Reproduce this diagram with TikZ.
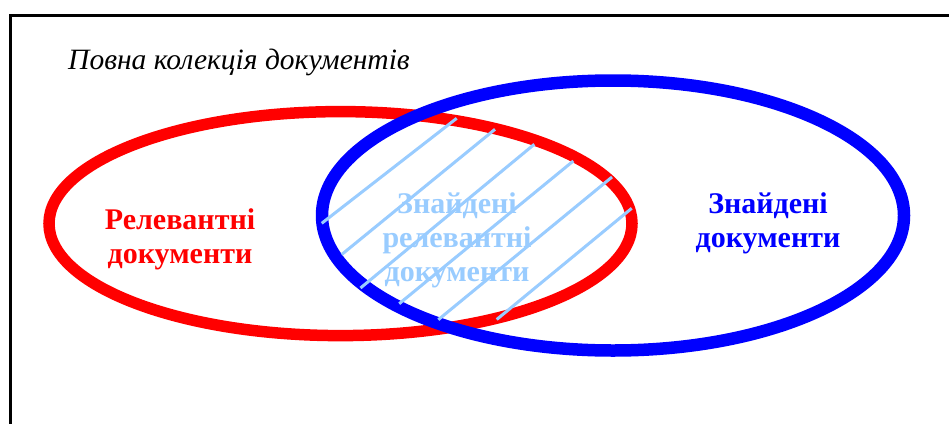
\documentclass[tikz,border=0pt]{standalone}
\usepackage{fontspec}
\setmainfont{Liberation Serif}
\definecolor{relred}{RGB}{255,0,0}
\definecolor{fndblue}{RGB}{0,0,255}
\definecolor{hatchblue}{RGB}{153,204,255}
\begin{document}
\begin{tikzpicture}[x=1pt,y=-1pt,
  frame/.style={line width=3pt,black},
  hatch/.style={line width=3pt,hatchblue},
  lbl/.style={inner sep=0pt,align=center,font=\fontsize{30}{34}\selectfont\bfseries}]
\useasboundingbox (0,0) rectangle (949,423);
\fill[white] (0,0) rectangle (949,423);
% frame
\draw[frame] (10.8,430) -- (10.8,15.8) -- (955,15.8);
% sets
\draw[relred,line width=11.5pt] (340.5,223.6) ellipse [x radius=291.5pt, y radius=112pt];
\draw[fndblue,line width=12.5pt] (613,215.5) ellipse [x radius=291pt, y radius=135pt];
% texts
\node[inner sep=0pt,anchor=base west,font=\fontsize{29.5}{34}\selectfont\itshape] (title) at (68,69) {Повна колекція документів};
\node[lbl,text=relred] (rel) at (180,239) {Релевантні\\документи};
\node[lbl,text=fndblue] (fnd) at (768,223.5) {Знайдені\\документи};
\node[lbl,text=hatchblue] (both) at (457,240.5) {Знайдені\\релевантні\\документи};
% hatching
\draw[hatch] (321.7,223.3) -- (456.7,118.3);
\draw[hatch] (341.7,254.5) -- (495,129.3);
\draw[hatch] (360.5,288) -- (534.3,144.3);
\draw[hatch] (399.2,303.7) -- (573.3,161);
\draw[hatch] (438.3,319.7) -- (612,177);
\draw[hatch] (496.7,319.5) -- (631.7,208.3);
\end{tikzpicture}
\end{document}
